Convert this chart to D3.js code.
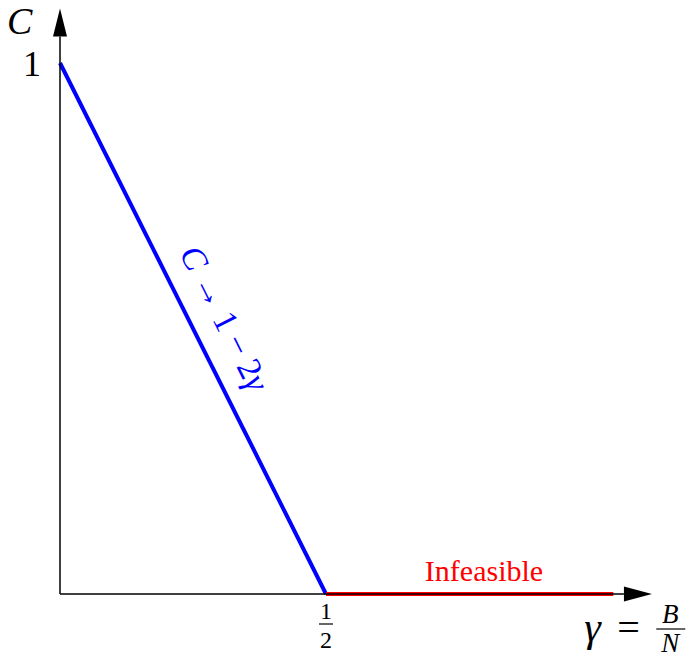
<!DOCTYPE html>
<html>
<head>
<meta charset="utf-8">
<script src="https://cdn.jsdelivr.net/npm/d3@7"></script>
<style>
  body { margin: 0; background: #fff; }
  svg text { font-family: "Liberation Serif", "DejaVu Serif", serif; }
</style>
</head>
<body>
<svg id="chart" width="689" height="658"></svg>
<script>
// capacity curve C(gamma) = 1 - 2 gamma, then infeasible region
const feasibleGamma = [0, 0.5];
const feasibleC = [1, 0];
const infeasibleGamma = [0.5, 1.04];
const infeasibleC = [0, 0];
const xTickVals = [0.5];
const yTickVals = [1];

const width = 689, height = 658;
const svg = d3.select('#chart');

// domain a bit past the data for the arrow heads
const xScale = d3.scaleLinear().domain([0, 1]).range([60, 592]);
const yScale = d3.scaleLinear().domain([0, 1]).range([594, 63]);

const line = d3.line()
  .x(d => xScale(d[0]))
  .y(d => yScale(d[1]));

// blue line
svg.append('path')
  .datum(d3.zip(feasibleGamma, feasibleC))
  .attr('d', line)
  .style('fill', 'none')
  .style('stroke', '#0000ff')
  .style('stroke-width', 4);

// red line
svg.append('path')
  .datum(d3.zip(infeasibleGamma, infeasibleC))
  .attr('d', line)
  .style('fill', 'none')
  .style('stroke', '#ff0000')
  .style('stroke-width', 4);

// axes, no ticks
let xAxis = d3.axisBottom(xScale).tickValues([]).tickSizeOuter(0);
let yAxis = d3.axisLeft(yScale).tickValues([]).tickSizeOuter(0);

const gx = svg.append('g')
  .attr('transform', `translate(0, ${yScale(0)})`)
  .call(xAxis);
gx.select('.domain').attr('d', `M${xScale(0)},0H${xScale(1.06)}`).style('stroke-width', 1.5);

const gy = svg.append('g')
  .attr('transform', `translate(${xScale(0)}, 0)`)
  .call(yAxis);
gy.select('.domain').attr('d', `M0,0V${yScale(1.05) - yScale(0)}`)
  .attr('transform', `translate(0, ${yScale(0)})`)
  .style('stroke-width', 1.5);

// arrow heads
let xa = xScale(1.06), ya = yScale(0);
svg.append('path')
  .attr('d', `M${xa},${ya - 7.5}L${xa + 28},${ya}L${xa},${ya + 7.5}Z`)
  .style('fill', '#000');
let yx = xScale(0), yy = yScale(1.05);
svg.append('path')
  .attr('d', `M${yx - 7},${yy}L${yx},${yy - 28}L${yx + 7},${yy}Z`)
  .style('fill', '#000');

// tick labels
svg.selectAll('.ylab').data(yTickVals).enter().append('text')
  .attr('class', 'ylab')
  .attr('x', xScale(0) - 19)
  .attr('y', d => yScale(d) + 13)
  .attr('text-anchor', 'end')
  .style('font-size', '36px')
  .text(d => d);

const frac = svg.selectAll('.xlab').data(xTickVals).enter().append('g')
  .attr('class', 'xlab')
  .attr('transform', d => `translate(${xScale(d)}, ${yScale(0)})`);
frac.append('text').attr('y', 25).attr('text-anchor', 'middle')
  .style('font-size', '24px').text('1');
frac.append('line').attr('x1', -7).attr('x2', 7).attr('y1', 30).attr('y2', 30)
  .style('stroke', '#000').style('stroke-width', 1.2);
frac.append('text').attr('y', 54).attr('text-anchor', 'middle')
  .style('font-size', '24px').text('2');

// axis titles
svg.append('text')
  .attr('x', 7).attr('y', 34)
  .style('font-size', '38px').style('font-style', 'italic')
  .text('C');

const gt = svg.append('g').attr('transform', `translate(${xScale(1.04)}, 0)`);
gt.append('text').attr('x', -29).attr('y', 641)
  .style('font-size', '42px').style('font-style', 'italic').text('γ');
gt.append('text').attr('x', 4).attr('y', 641)
  .style('font-size', '40px').text('=');
gt.append('text').attr('x', 57).attr('y', 623).attr('text-anchor', 'middle')
  .style('font-size', '27px').style('font-style', 'italic').text('B');
gt.append('line').attr('x1', 43).attr('x2', 72).attr('y1', 629).attr('y2', 629)
  .style('stroke', '#000').style('stroke-width', 1.2);
gt.append('text').attr('x', 57).attr('y', 652).attr('text-anchor', 'middle')
  .style('font-size', '27px').style('font-style', 'italic').text('N');

// region label
svg.append('text')
  .attr('x', xScale(0.797)).attr('y', 581)
  .attr('text-anchor', 'middle')
  .style('font-size', '30px').style('fill', '#ff0000')
  .text('Infeasible');

// rotated label along the blue line
let angle = Math.atan2(yScale(0) - yScale(1), xScale(0.5) - xScale(0)) * 180 / Math.PI;
let lx = xScale(0.29), ly = yScale(0.51);
const rl = svg.append('text')
  .attr('transform', `translate(${lx}, ${ly}) rotate(${angle})`)
  .attr('text-anchor', 'middle')
  .style('font-size', '34px').style('fill', '#0000ff');
rl.append('tspan').style('font-style', 'italic').text('C');
rl.append('tspan').text(' → 1 − 2');
rl.append('tspan').style('font-style', 'italic').text('γ');
</script>
</body>
</html>
